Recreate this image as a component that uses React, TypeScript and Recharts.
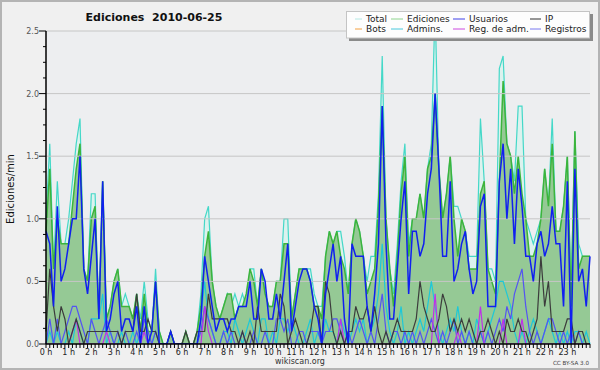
import React from 'react';
import { ComposedChart, Area, Line, XAxis, YAxis, ReferenceLine } from 'recharts';

const FONT = '"DejaVu Sans", Verdana, sans-serif';

// edits per minute, one value every 10 minutes (00:00 .. 24:00)
const totalData = [
  1.0, 1.6, 0.6, 1.3, 0.8, 0.8, 1.0, 1.3, 1.6, 1.8, 0.6, 0.5,
  1.2, 1.2, 0.2, 1.3, 0.2, 0.3, 0.5, 0.6, 0.3, 0.4, 0.3, 0.2,
  0.4, 0.2, 0.5, 0.2, 0.1, 0.6, 0.1, 0, 0, 0.1, 0, 0,
  0, 0.1, 0, 0, 0.1, 0.4, 1.0, 1.1, 0.5, 0.3, 0.2, 0.3,
  0.4, 0.3, 0.4, 0.3, 0.4, 0.3, 0.6, 0.6, 0.3, 0.6, 0.4, 0.3,
  0.3, 0.5, 0.5, 1.0, 1.0, 0.2, 0.4, 0.6, 0.6, 0.6, 0.6, 0.4,
  0.3, 0.3, 0.7, 0.9, 0.8, 0.9, 0.9, 0.7, 0.4, 0.8, 1.0, 0.9,
  0.7, 0.5, 0.7, 0.7, 1.2, 2.3, 1.0, 0.6, 0.4, 0.8, 1.3, 1.6,
  0.8, 1.0, 1.0, 1.2, 1.0, 1.4, 1.6, 2.7, 1.4, 1.0, 1.2, 1.5,
  1.1, 1.1, 1.0, 0.9, 0.7, 0.7, 0.7, 1.8, 1.3, 0.6, 0.6, 0.5,
  2.2, 2.3, 1.6, 1.5, 1.3, 1.9, 1.9, 1.0, 0.9, 0.8, 0.9, 1.0,
  1.4, 1.1, 1.8, 0.9, 0.9, 1.1, 1.5, 0.4, 1.7, 0.8, 0.7, 0.7,
  0.7,
];

const edicionesData = [
  0.9, 1.4, 0.6, 1.0, 0.8, 0.8, 0.8, 1.1, 1.4, 1.6, 0.6, 0.5,
  1.0, 1.1, 0.2, 1.3, 0.2, 0.3, 0.5, 0.6, 0.3, 0.3, 0.3, 0.2,
  0.4, 0.1, 0.4, 0.1, 0.1, 0.5, 0.1, 0, 0, 0.1, 0, 0,
  0, 0.1, 0, 0, 0.1, 0.3, 0.7, 0.9, 0.5, 0.3, 0.2, 0.3,
  0.4, 0.4, 0.2, 0.3, 0.3, 0.4, 0.6, 0.5, 0.3, 0.6, 0.4, 0.3,
  0.3, 0.5, 0.5, 0.8, 0.8, 0.2, 0.4, 0.6, 0.6, 0.6, 0.5, 0.3,
  0.3, 0.2, 0.7, 0.9, 0.8, 0.9, 0.7, 0.6, 0.4, 0.8, 1.0, 0.9,
  0.7, 0.4, 0.5, 0.6, 1.1, 1.9, 1.0, 0.6, 0.3, 0.7, 1.2, 1.5,
  0.7, 1.0, 1.0, 1.2, 1.0, 1.4, 1.5, 2.0, 1.4, 1.0, 1.2, 1.5,
  1.0, 0.7, 1.0, 0.9, 0.6, 0.6, 0.6, 1.2, 1.3, 0.6, 0.5, 0.4,
  1.3, 2.1, 1.6, 1.5, 1.2, 1.5, 1.2, 1.0, 0.7, 0.7, 0.8, 1.0,
  1.4, 1.1, 1.6, 0.9, 0.9, 1.1, 1.5, 0.3, 1.7, 0.6, 0.7, 0.7,
  0.7,
];

const usuariosData = [
  0.9, 0.8, 0.3, 1.1, 0.5, 0.6, 0.8, 1.0, 1.0, 1.5, 0.6, 0.4,
  0.7, 1.0, 0.2, 1.3, 0.1, 0.2, 0.4, 0.5, 0.1, 0.2, 0.2, 0.1,
  0.3, 0, 0.3, 0, 0.1, 0.5, 0, 0, 0, 0.1, 0, 0,
  0, 0, 0, 0, 0, 0.2, 0.7, 0.5, 0.3, 0.1, 0.2, 0.2,
  0.1, 0.2, 0.2, 0.3, 0.3, 0.3, 0.5, 0.2, 0.2, 0.6, 0.5, 0.2,
  0.2, 0.4, 0.2, 0.5, 0.8, 0.1, 0.3, 0.5, 0.6, 0.6, 0.5, 0.3,
  0.2, 0, 0.4, 0.6, 0.8, 0.5, 0.7, 0.2, 0, 0.8, 0.7, 0.7,
  0.7, 0.3, 0.1, 0.4, 0.8, 1.9, 0.8, 0.2, 0.2, 0.6, 1.0, 1.3,
  0.4, 0.9, 0.9, 0.7, 0.8, 1.2, 1.4, 2.0, 1.4, 0.7, 0.7, 1.3,
  0.5, 0.6, 0.8, 0.9, 0.6, 0.4, 0.5, 1.1, 1.2, 0.3, 0.3, 0.3,
  1.3, 1.6, 1.0, 1.4, 0.8, 1.4, 1.1, 0.7, 0.7, 0.5, 0.8, 0.9,
  0.7, 0.8, 1.1, 0.8, 0.8, 0.3, 1.3, 0, 1.4, 0.5, 0.6, 0.3,
  0.7,
];

const ipData = [
  0.1, 0.6, 0.3, 0.1, 0.3, 0.2, 0, 0.1, 0.2, 0.1, 0, 0.1,
  0.1, 0.1, 0.1, 0.1, 0.1, 0.1, 0.1, 0.1, 0, 0.1, 0.1, 0.1,
  0.4, 0.1, 0.1, 0.2, 0.1, 0.1, 0, 0, 0, 0.1, 0, 0,
  0, 0.1, 0, 0, 0.1, 0.1, 0.1, 0.4, 0.2, 0.2, 0.2, 0.2,
  0.2, 0.1, 0.1, 0, 0.1, 0, 0.1, 0, 0.3, 0.1, 0.1, 0.1,
  0.1, 0.1, 0.4, 0.3, 0, 0.1, 0.2, 0.1, 0, 0, 0.1, 0.3,
  0.3, 0, 0.5, 0.4, 0.1, 0, 0.1, 0, 0.1, 0.1, 0.3, 0.2,
  0.2, 0.3, 0.1, 0.3, 0.1, 0, 0.1, 0, 0.1, 0.2, 0.1, 0.1,
  0.1, 0.1, 0.2, 0.5, 0.3, 0.2, 0.1, 0.1, 0.2, 0.4, 0.3, 0.1,
  0.2, 0.1, 0.2, 0.1, 0.2, 0.1, 0, 0.1, 0.1, 0.2, 0.1, 0,
  0.1, 0, 0.2, 0.1, 0.1, 0.2, 0.1, 0.1, 0, 0.1, 0.2, 0.7,
  0.3, 0.5, 0.1, 0.1, 0.1, 0.1, 0.2, 0.2, 0, 0.1, 0.1, 0,
  0,
];

const adminsData = [
  0, 0.1, 0, 0.1, 0, 0, 0.1, 0, 0.2, 0.1, 0, 0,
  0.2, 0.2, 0.2, 0.4, 0, 0.1, 0, 0, 0.1, 0, 0, 0.1,
  0, 0.1, 0.1, 0, 0, 0.1, 0, 0, 0, 0, 0, 0,
  0, 0, 0, 0, 0, 0.2, 0.5, 0.2, 0.1, 0, 0, 0.1,
  0.1, 0, 0.2, 0.1, 0, 0.1, 0.2, 0.1, 0, 0.2, 0.2, 0,
  0.1, 0, 0.2, 0.2, 0.1, 0.2, 0.1, 0, 0, 0.1, 0.2, 0,
  0.1, 0, 0.2, 0.1, 0.1, 0, 0.2, 0.1, 0, 0.1, 0.2, 0.1,
  0.2, 0, 0.1, 0.2, 0.4, 0.8, 0.3, 0.1, 0, 0.1, 0.3, 0,
  0.1, 0, 0.1, 0.2, 0.1, 0.3, 0.5, 0.3, 0.1, 0, 0.1, 0.2,
  0.1, 0.3, 0.1, 0, 0.1, 0, 0.2, 0.1, 0, 0.1, 0.2, 0.3,
  0.5, 0.5, 0.4, 0.3, 0.1, 0, 0.1, 0, 0.1, 0.2, 0.1, 0,
  0.1, 0.2, 0.1, 0, 0.1, 0, 0.1, 0, 0.1, 0.1, 0, 0.1,
  0,
];

const regAdmData = [
  0, 0, 0, 0, 0, 0, 0, 0.1, 0.2, 0, 0, 0,
  0, 0, 0, 0, 0.1, 0, 0, 0, 0, 0, 0, 0,
  0, 0, 0.1, 0, 0, 0, 0, 0, 0, 0, 0, 0,
  0, 0, 0, 0, 0, 0, 0.3, 0.1, 0, 0, 0, 0,
  0, 0, 0, 0, 0, 0, 0, 0, 0, 0, 0, 0,
  0, 0, 0, 0, 0, 0, 0, 0, 0, 0, 0, 0,
  0, 0, 0, 0, 0, 0, 0.2, 0, 0, 0, 0, 0,
  0, 0, 0, 0, 0, 0, 0, 0, 0, 0, 0, 0,
  0, 0, 0, 0, 0, 0, 0, 0.4, 0, 0, 0, 0,
  0, 0.1, 0, 0, 0, 0, 0, 0.3, 0, 0, 0, 0,
  0, 0.2, 0, 0, 0, 0, 0.2, 0, 0, 0, 0, 0,
  0, 0, 0, 0, 0, 0, 0, 0, 0, 0, 0, 0,
  0,
];

const registrosData = [
  0, 0.2, 0, 0.2, 0, 0.1, 0.2, 0.3, 0.3, 0.2, 0.1, 0,
  0.2, 0.1, 0, 0.1, 0.2, 0.1, 0, 0.1, 0, 0.1, 0, 0,
  0.1, 0, 0.2, 0.1, 0, 0.1, 0, 0, 0, 0, 0, 0,
  0, 0, 0, 0, 0, 0.1, 0.3, 0.2, 0.1, 0, 0, 0.1,
  0, 0.1, 0, 0, 0.1, 0, 0, 0.1, 0, 0, 0.1, 0,
  0, 0.2, 0.2, 0.1, 0.2, 0, 0, 0.1, 0.1, 0, 0.1, 0.1,
  0.1, 0, 0.1, 0.1, 0.2, 0.2, 0.1, 0, 0.1, 0, 0.1, 0.2,
  0.1, 0, 0.1, 0, 0.2, 0.4, 0.1, 0, 0.1, 0.1, 0, 0.1,
  0, 0.1, 0, 0.1, 0, 0.1, 0.2, 0.1, 0, 0.1, 0, 0.1,
  0.2, 0, 0.1, 0, 0.1, 0, 0, 0.1, 0, 0.1, 0, 0.1,
  0.2, 0.1, 0.3, 0.2, 0.4, 0.5, 0.6, 0.3, 0.1, 0, 0.1, 0,
  0.1, 0.2, 0.2, 0.1, 0, 0.1, 0, 0.1, 0, 0.1, 0, 0,
  0,
];

const hourLabels = [
  '0 h', '1 h', '2 h', '3 h', '4 h', '5 h', '6 h', '7 h', '8 h', '9 h', '10 h', '11 h',
  '12 h', '13 h', '14 h', '15 h', '16 h', '17 h', '18 h', '19 h', '20 h', '21 h', '22 h', '23 h',
];

const gridValues = [0.5, 1.0, 1.5, 2.0, 2.5];

const legendItems = [
  { name: 'Total', color: '#b4e8e4', col: 0, row: 0 },
  { name: 'Ediciones', color: '#8ed48e', col: 1, row: 0 },
  { name: 'Usuarios', color: '#4040e8', col: 2, row: 0 },
  { name: 'IP', color: '#303030', col: 3, row: 0 },
  { name: 'Bots', color: '#f4a040', col: 0, row: 1 },
  { name: 'Admins.', color: '#48c8dc', col: 1, row: 1 },
  { name: 'Reg. de adm.', color: '#cc48e0', col: 2, row: 1 },
  { name: 'Registros', color: '#7878f0', col: 3, row: 1 },
];

const rows = totalData.map((v, i) => ({
  t: i,
  total: v,
  ediciones: edicionesData[i],
  usuarios: usuariosData[i],
  ip: ipData[i],
  admins: adminsData[i],
  regAdm: regAdmData[i],
  registros: registrosData[i],
}));

const xTicks = rows.map((r) => r.t);
const yTicks = Array.from({ length: 21 }, (_, k) => k * 0.125);

function HourTick(props: any) {
  const { x, y, payload } = props;
  const v = payload.value;
  const label = v % 6 === 0 && v < 144 ? hourLabels[v / 6] : null;
  return (
    <g>
      <line x1={x} y1={y} x2={x} y2={y + 4} stroke="#000" strokeWidth={1} />
      {label && (
        <text x={x} y={y + 11} textAnchor="middle" fontSize={8} fill="#222" fontFamily={FONT}>
          {label}
        </text>
      )}
    </g>
  );
}

function ValueTick(props: any) {
  const { x, y, payload } = props;
  const v = payload.value;
  const major = Math.abs(v * 2 - Math.round(v * 2)) < 1e-6;
  return (
    <g>
      <line x1={x - (major ? 7 : 3)} y1={y} x2={x} y2={y} stroke="#000" strokeWidth={1} />
      {major && (
        <text x={x - 7} y={y + 3} textAnchor="end" fontSize={8} fill="#555" fontFamily={FONT}>
          {v.toFixed(1)}
        </text>
      )}
    </g>
  );
}

export default function App() {
  const colX = [355, 391, 453, 530];
  const colW = [7, 12, 12, 11];
  return (
    <div
      style={{
        position: 'absolute',
        left: 0,
        top: 0,
        width: 600,
        height: 370,
        boxSizing: 'border-box',
        border: '2px solid #b4b4b4',
        background: '#f0f0f0',
        fontFamily: FONT,
      }}
    >
      {/* plot background */}
      <div style={{ position: 'absolute', left: 44, top: 29, width: 544, height: 313, background: '#edeef0' }} />

      <div style={{ position: 'absolute', left: -2, top: -2 }}>
        <ComposedChart width={600} height={370} data={rows} margin={{ top: 31, right: 10, bottom: 6, left: 16 }}>
          {gridValues.map((g) => (
            <ReferenceLine key={g} y={g} stroke="#c6c6c6" strokeWidth={1} ifOverflow="visible" />
          ))}
          <XAxis
            type="number"
            dataKey="t"
            domain={[0, 144]}
            ticks={xTicks}
            interval={0}
            height={20}
            tickSize={0}
            tickMargin={0}
            tickLine={false}
            axisLine={{ stroke: '#000', strokeWidth: 1.5 }}
            tick={<HourTick />}
          />
          <YAxis
            type="number"
            domain={[0, 2.5]}
            allowDataOverflow
            ticks={yTicks}
            interval={0}
            width={30}
            tickSize={0}
            tickMargin={0}
            tickLine={false}
            axisLine={{ stroke: '#000', strokeWidth: 1.5 }}
            tick={<ValueTick />}
          />
          <Area type="linear" dataKey="total" stroke="#44d8c8" strokeWidth={1.2} fill="#dcf2ee" fillOpacity={1} isAnimationActive={false} dot={false} />
          <Area type="linear" dataKey="ediciones" stroke="#3cb43c" strokeWidth={1.5} fill="#95c995" fillOpacity={1} isAnimationActive={false} dot={false} />
          <Line type="linear" dataKey="admins" stroke="#1ec8d8" strokeWidth={1.2} dot={false} isAnimationActive={false} />
          <Line type="linear" dataKey="registros" stroke="#5454f2" strokeWidth={1.2} dot={false} isAnimationActive={false} />
          <Line type="linear" dataKey="regAdm" stroke="#c030e8" strokeWidth={1.2} dot={false} isAnimationActive={false} />
          <Line type="linear" dataKey="ip" stroke="#3c3c3c" strokeWidth={1.2} dot={false} isAnimationActive={false} />
          <Line type="linear" dataKey="usuarios" stroke="#1020f0" strokeWidth={1.5} dot={false} isAnimationActive={false} />
        </ComposedChart>
      </div>

      {/* title, labels and legend */}
      <svg width={600} height={370} style={{ position: 'absolute', left: -2, top: -2, pointerEvents: 'none' }}>
        <text x={154} y={20.5} textAnchor="middle" fontSize={11} fontWeight="bold" fill="#111" fontFamily={FONT} style={{ whiteSpace: 'pre' }}>
          {'Ediciones  2010-06-25'}
        </text>
        <text x={0} y={0} transform="translate(14,189) rotate(-90)" textAnchor="middle" fontSize={10} fill="#111" fontFamily={FONT}>
          Ediciones/min
        </text>
        <text x={300} y={364} textAnchor="middle" fontSize={8} fill="#333" fontFamily={FONT}>
          wikiscan.org
        </text>
        <text x={589} y={364.5} textAnchor="end" fontSize={5.6} fill="#444" fontFamily={FONT}>
          CC BY-SA 3.0
        </text>

        <rect x={349} y={14} width={244} height={27} fill="#8a8a8a" />
        <rect x={346.5} y={11.5} width={243} height={26.5} fill="#fdfdfd" stroke="#c4c4c4" strokeWidth={1} />
        {legendItems.map((it) => {
          const ly = it.row === 0 ? 19 : 29;
          const x0 = colX[it.col];
          const x1 = x0 + colW[it.col];
          return (
            <g key={it.name}>
              <line x1={x1 - colW[it.col]} y1={ly} x2={x1} y2={ly} stroke={it.color} strokeWidth={1} />
              <text x={x1 + 4} y={ly + 3.2} fontSize={9} fill="#222" fontFamily={FONT}>
                {it.name}
              </text>
            </g>
          );
        })}
      </svg>
    </div>
  );
}
